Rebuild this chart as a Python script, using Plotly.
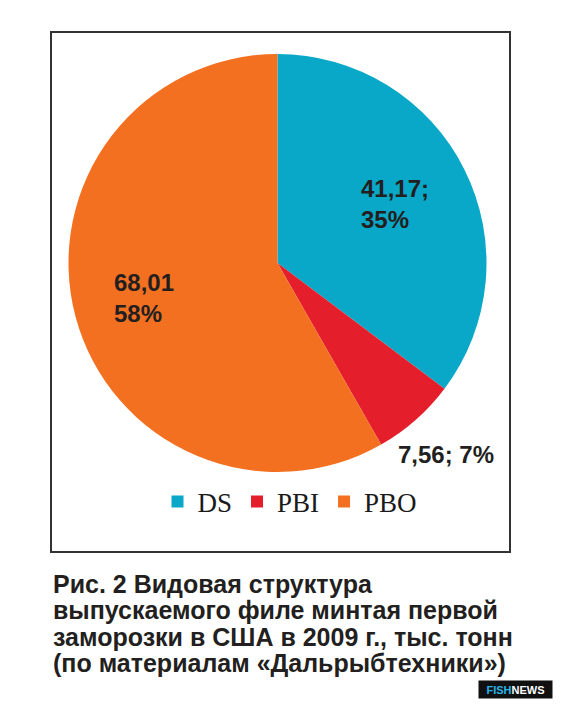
import math
import plotly.graph_objects as go

# data
categories = ["DS", "PBI", "PBO"]
values = [41.17, 7.56, 68.01]          # тыс. тонн
percents = [35, 7, 58]                 # as printed on the chart
label_sep = [";<br>", "; ", "<br>"]
colors = ["#0AA8C8", "#E41E2B", "#F37021"]

caption_lines = [
    "Рис. 2 Видовая структура",
    "выпускаемого филе минтая первой",
    "заморозки в США в 2009 г., тыс. тонн",
    "(по материалам «Дальрыбтехники»)",
]

W, H = 564, 709
OFF = 8  # default body margin of the html page


def px(x, y):
    # page pixel -> paper coords
    return (x - OFF) / W, 1 - (y - OFF) / H


labels_text = [f"{v:.2f}".replace(".", ",") + s + f"{p}%"
               for v, s, p in zip(values, label_sep, percents)]

# pie: center (277.5, 263), radius 209 px on the page
cx, cy, r = 277.5, 263, 209
x0, y0 = px(cx - r, cy + r)
x1, y1 = px(cx + r, cy - r)

fig = go.Figure(go.Pie(
    labels=categories,
    values=values,
    textinfo="none",
    sort=False,
    direction="clockwise",
    rotation=0,
    marker=dict(colors=colors, line=dict(width=0)),
    hoverinfo="label+value+percent",
    domain=dict(x=[x0, x1], y=[y0, y1]),
))

# slice labels, placed at each slice's mid angle
label_radius = [0.63, 1.22, 0.66]
total = sum(values)
start = 0.0
for txt, v, k in zip(labels_text, values, label_radius):
    mid = 2 * math.pi * (start + v / 2) / total
    start += v
    lx = cx + k * r * math.sin(mid)
    ly = cy - k * r * math.cos(mid)
    ax, ay = px(lx, ly)
    fig.add_annotation(text=txt, xref="paper", yref="paper",
                       x=ax, y=ay, xanchor="center", yanchor="middle",
                       align="left", showarrow=False,
                       font=dict(family="Liberation Sans", size=24,
                                 color="#231F20", weight="bold"))

lx, ly = px(0, 502)
fig.update_layout(
    width=W, height=H,
    margin=dict(l=0, r=0, t=0, b=0),
    paper_bgcolor="white",
    plot_bgcolor="white",
    showlegend=True,
    legend=dict(orientation="h", x=0.5, xanchor="center",
                y=ly, yanchor="middle",
                font=dict(family="Liberation Serif", size=27, color="#1a1a1a"),
                traceorder="normal"),
)

# frame around chart
fx0, fy0 = px(51, 552)
fx1, fy1 = px(510, 32)
fig.add_shape(type="rect", xref="paper", yref="paper",
              x0=fx0, x1=fx1, y0=fy0, y1=fy1,
              line=dict(color="#333333", width=2))

# caption
baselines = [593, 619, 646, 672]
for line, b in zip(caption_lines, baselines):
    ax, ay = px(51, b - 9)
    fig.add_annotation(text=line, xref="paper", yref="paper",
                       x=ax, xanchor="left", y=ay, yanchor="middle",
                       showarrow=False,
                       font=dict(family="Liberation Sans", size=25,
                                 color="#231F20", weight="bold"))

# logo
ax, ay = px(553, 689.5)
fig.add_annotation(text="<span style='color:#2AB4E8'>FISH</span>NEWS",
                   xref="paper", yref="paper",
                   x=ax, xanchor="right", y=ay, yanchor="middle",
                   showarrow=False, bgcolor="#111111", borderpad=2,
                   width=69, height=13,
                   font=dict(family="Liberation Sans", size=11,
                             color="white", weight="bold"))

fig.write_html("out.html")
